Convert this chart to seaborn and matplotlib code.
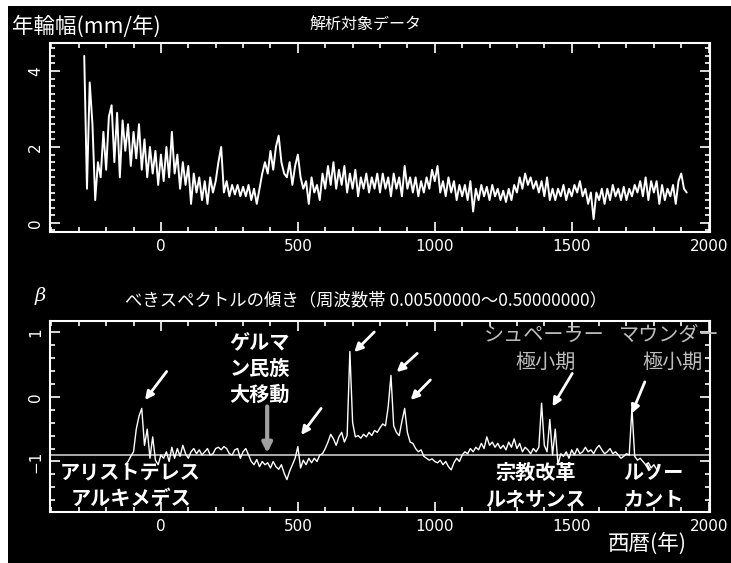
import numpy as np
import pandas as pd
import matplotlib
matplotlib.use("Agg")
import matplotlib.pyplot as plt
from matplotlib.patches import Rectangle
from matplotlib.ticker import MultipleLocator
import seaborn as sns


# tree ring width (mm/yr), every 10 years, -280 .. 1920
ring_years = np.arange(-280, 1930, 10)
ring_width = [
    4.4, 0.9, 3.7, 2.6, 0.6, 1.6, 1.2, 2.4, 1.4, 2.8,    # -280 .. -190
    3.1, 1.6, 2.9, 1.2, 2.7, 1.9, 2.6, 1.5, 2.4, 1.7,    # -180 .. -90
    2.6, 1.4, 2.2, 1.2, 2.0, 1.3, 1.9, 1.0, 1.8, 1.1,    # -80 .. 10
    2.0, 1.2, 2.4, 1.3, 1.8, 0.9, 1.6, 1.0, 1.5, 0.5,    # 20 .. 110
    1.3, 0.8, 1.2, 0.6, 1.1, 0.5, 1.2, 0.8, 1.1, 1.6,    # 120 .. 210
    2.0, 0.8, 1.1, 0.7, 1.0, 0.75, 1.0, 0.7, 0.95, 0.7,  # 220 .. 310
    1.0, 0.6, 0.9, 0.5, 0.9, 1.3, 1.6, 1.3, 1.9, 1.4,    # 320 .. 410
    2.0, 2.3, 1.6, 1.3, 1.2, 1.6, 1.0, 1.5, 1.8, 1.2,    # 420 .. 510
    0.9, 1.1, 0.5, 1.2, 0.8, 1.0, 0.6, 1.3, 0.9, 1.5,    # 520 .. 610
    1.0, 1.6, 0.9, 1.4, 1.0, 1.5, 0.8, 1.3, 0.9, 1.4,    # 620 .. 710
    0.7, 1.2, 0.9, 1.3, 0.8, 1.2, 0.9, 1.3, 0.8, 1.3,    # 720 .. 810
    0.9, 1.2, 0.7, 1.3, 0.9, 1.2, 0.7, 1.5, 0.9, 1.2,    # 820 .. 910
    0.8, 1.2, 0.7, 1.1, 0.8, 1.2, 0.9, 1.4, 1.1, 1.5,    # 920 .. 1010
    0.8, 1.1, 0.7, 1.2, 0.8, 1.1, 0.6, 1.0, 0.7, 1.0,    # 1020 .. 1110
    0.6, 1.1, 0.3, 0.9, 0.6, 1.0, 0.7, 0.95, 0.6, 1.0,   # 1120 .. 1210
    0.7, 0.9, 0.6, 0.85, 0.55, 0.9, 0.6, 1.0, 0.8, 1.2,  # 1220 .. 1310
    0.9, 1.3, 1.0, 1.2, 0.9, 1.1, 0.8, 1.1, 0.7, 1.2,    # 1320 .. 1410
    0.6, 0.9, 0.6, 0.9, 0.7, 1.0, 0.6, 0.9, 0.7, 1.0,    # 1420 .. 1510
    0.8, 1.1, 0.7, 0.9, 0.5, 0.8, 0.1, 0.8, 0.6, 0.9,    # 1520 .. 1610
    0.5, 0.9, 0.6, 1.0, 0.7, 0.9, 0.6, 0.95, 0.6, 0.9,   # 1620 .. 1710
    0.7, 1.0, 0.8, 1.1, 0.7, 1.2, 0.6, 1.1, 0.8, 1.1,    # 1720 .. 1810
    0.5, 1.0, 0.6, 0.9, 0.7, 1.0, 0.5, 1.1, 1.3, 0.9,    # 1820 .. 1910
    0.8,                                                 # 1920
]

# slope of the power spectrum (beta), every 10 years, -130 .. 1810
beta_years = np.arange(-130, 1820, 10)
beta = [
    -1.05, -1.00, -0.92, -0.85, -0.50, -0.30, -0.18, -0.75, -0.50, -0.95,  # -130 .. -40
    -0.62, -0.98, -1.05, -0.90, -0.95, -0.85, -1.00, -0.78, -0.95, -0.80,  # -30 .. 60
    -0.92, -0.75, -0.88, -0.95, -0.85, -0.80, -0.88, -0.82, -0.90, -0.85,  # 70 .. 160
    -0.80, -0.90, -0.88, -0.80, -0.78, -0.82, -0.77, -0.80, -0.88, -0.90,  # 170 .. 260
    -0.82, -0.80, -0.95, -0.85, -0.80, -0.90, -1.00, -1.05, -0.97, -1.08,  # 270 .. 360
    -1.00, -1.05, -1.02, -1.10, -1.00, -1.08, -1.12, -1.05, -1.18, -1.28,  # 370 .. 460
    -1.15, -1.05, -0.95, -0.77, -1.10, -0.98, -1.05, -0.95, -1.02, -0.95,  # 470 .. 560
    -1.00, -0.90, -0.88, -0.80, -0.70, -0.58, -0.65, -0.75, -0.62, -0.55,  # 570 .. 660
    -0.70, -0.60, 0.70, -0.40, -0.62, -0.60, -0.64, -0.58, -0.62, -0.55,   # 670 .. 760
    -0.60, -0.52, -0.55, -0.48, -0.42, -0.45, -0.15, 0.33, -0.45, -0.55,   # 770 .. 860
    -0.60, -0.38, -0.18, -0.55, -0.70, -0.72, -0.80, -0.85, -0.82, -0.92,  # 870 .. 960
    -0.95, -0.98, -0.96, -1.00, -1.02, -0.98, -1.05, -1.00, -1.08, -1.13,  # 970 .. 1060
    -1.02, -0.95, -1.00, -0.90, -0.85, -0.88, -0.80, -0.85, -0.78, -0.82,  # 1070 .. 1160
    -0.72, -0.80, -0.62, -0.75, -0.70, -0.78, -0.72, -0.80, -0.75, -0.82,  # 1170 .. 1260
    -0.70, -0.78, -0.65, -0.80, -0.72, -0.85, -0.78, -0.82, -0.88, -0.80,  # 1270 .. 1360
    -0.85, -0.78, -0.10, -0.75, -0.85, -0.35, -0.90, -0.50, -1.05, -0.88,  # 1370 .. 1460
    -0.92, -0.85, -0.95, -0.82, -0.90, -0.80, -0.88, -0.85, -0.78, -0.85,  # 1470 .. 1560
    -0.82, -0.88, -0.80, -0.75, -0.82, -0.88, -0.85, -0.80, -0.88, -0.85,  # 1570 .. 1660
    -0.90, -0.95, -0.92, -0.88, -0.90, -0.18, -0.92, -0.98, -0.95, -1.00,  # 1670 .. 1760
    -1.05, -1.02, -1.10, -1.05, -1.12,                                     # 1770 .. 1810
]
beta_ref = -0.9

x_ticks = [0, 500, 1000, 1500, 2000]
ring_ticks = [0, 2, 4]
beta_ticks = [-1, 0, 1]

ring_df = pd.DataFrame({"year": ring_years, "width": ring_width})
beta_df = pd.DataFrame({"year": beta_years, "beta": beta})

sns.set_theme(style="ticks", rc={
    "axes.facecolor": "black",
    "figure.facecolor": "white",
    "axes.edgecolor": "white",
    "xtick.color": "white",
    "ytick.color": "white",
    "text.color": "white",
})
JP = ["Noto Sans CJK JP", "DejaVu Sans"]
NARROW = ["Liberation Sans Narrow", "DejaVu Sans"]
plt.rcParams["font.family"] = JP

fig = plt.figure(figsize=(7.31, 5.63), dpi=100)
# black picture area with a thin light margin on the left/top
fig.add_artist(Rectangle((8 / 731, 0), 1, 1 - 6 / 563, transform=fig.transFigure,
                         facecolor="black", edgecolor="none", zorder=-10))

ax1 = fig.add_axes([50 / 731, 1 - 232 / 563, 660 / 731, 189 / 563])
ax2 = fig.add_axes([50 / 731, 1 - 512 / 563, 660 / 731, 191 / 563])

sns.lineplot(data=ring_df, x="year", y="width", color="white", lw=1.4, ax=ax1)
sns.lineplot(data=beta_df, x="year", y="beta", color="white", lw=1.0, ax=ax2)
ax2.axhline(beta_ref, color="#c8c8c8", lw=1.2, zorder=1)

ax1.set_ylim(-0.24, 4.74)
ax2.set_ylim(-1.78, 1.17)

for ax, yt in [(ax1, ring_ticks), (ax2, beta_ticks)]:
    ax.set_xlim(-405, 2005)
    ax.set_xticks(x_ticks)
    ax.set_yticks(yt)
    ax.xaxis.set_minor_locator(MultipleLocator(100))
    ax.yaxis.set_minor_locator(MultipleLocator(0.2))
    ax.tick_params(which="both", direction="in", top=True, right=True, colors="white", width=1.2)
    ax.tick_params(which="major", length=7, labelsize=11, pad=5)
    ax.tick_params(which="minor", length=3.5)
    ax.tick_params(axis="y", labelrotation=90)
    for lbl in ax.get_xticklabels() + ax.get_yticklabels():
        lbl.set_family(NARROW)
        lbl.set_color("white")
    for lbl in ax.get_yticklabels():
        lbl.set_va("center")
    for s in ax.spines.values():
        s.set_color("white")
        s.set_linewidth(1.5)
    ax.set_xlabel("")
    ax.set_ylabel("")

# top panel texts
fig.text(12 / 731, 1 - 27 / 563, "年輪幅(mm/年)", fontsize=15.5, va="center", ha="left")
fig.text(365 / 731, 1 - 25 / 563, "解析対象データ", fontsize=11.5, va="center", ha="center")

# bottom panel texts
fig.text(40 / 731, 1 - 296 / 563, "β", fontsize=14, style="italic", va="center", ha="center",
         family=["DejaVu Serif"])
fig.text(366 / 731, 1 - 300 / 563, "べきスペクトルの傾き（周波数帯 0.00500000〜0.50000000）",
         fontsize=12.5, va="center", ha="center")
fig.text(647 / 731, 1 - 544 / 563, "西暦(年)", fontsize=15.5, va="center", ha="center")

lab = dict(fontsize=14.5, ha="center", va="center", color="white", weight="bold")
grey = dict(fontsize=14.5, ha="center", va="center", color="#bdbdbd")
ax2.text(-112, -1.17, "アリストテレス", **lab)
ax2.text(-108, -1.58, "アルキメデス", **lab)
ax2.text(360, 0.85, "ゲルマ", **lab)
ax2.text(360, 0.44, "ン民族", **lab)
ax2.text(360, 0.03, "大移動", **lab)
ax2.text(1400, 0.95, "シュペーラー", **grey)
ax2.text(1405, 0.53, "極小期", **grey)
ax2.text(1855, 0.95, "マウンダー", clip_on=False, **grey)
ax2.text(1870, 0.53, "極小期", **grey)
ax2.text(1368, -1.17, "宗教改革", **lab)
ax2.text(1368, -1.58, "ルネサンス", **lab)
ax2.text(1798, -1.17, "ルソー", **lab)
ax2.text(1798, -1.58, "カント", **lab)

# white arrows pointing at the peaks
arrows = [((21, 0.39), (-58, -0.05)), ((585, -0.18), (512, -0.59)),
          ((779, 1.00), (706, 0.69)), ((936, 0.67), (861, 0.38)),
          ((984, 0.26), (912, -0.05)), ((1502, 0.36), (1430, -0.15)),
          ((1767, 0.23), (1719, -0.26))]
for tail, head in arrows:
    ax2.annotate("", xy=head, xytext=tail,
                 arrowprops=dict(arrowstyle="-|>", color="white", lw=2, mutation_scale=12,
                                 shrinkA=0, shrinkB=0))
# grey arrow for the migration period
ax2.annotate("", xy=(388, -0.87), xytext=(388, -0.15),
             arrowprops=dict(arrowstyle="-|>", color="#a0a0a0", lw=3, mutation_scale=14,
                             shrinkA=0, shrinkB=0))

plt.savefig("out.png", dpi=100, facecolor=fig.get_facecolor())
plt.close()
